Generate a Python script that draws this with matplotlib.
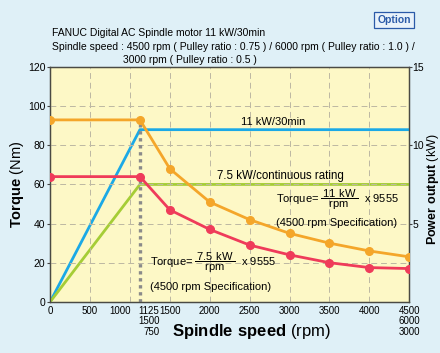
import matplotlib
matplotlib.use('Agg')
import matplotlib.pyplot as plt
import matplotlib.transforms as mtransforms

plt.rcParams['font.family'] = ['Liberation Sans', 'DejaVu Sans']
plt.rcParams['mathtext.fontset'] = 'custom'
plt.rcParams['mathtext.rm'] = 'Liberation Sans'
plt.rcParams['mathtext.bf'] = 'Liberation Sans:bold'

# --- Data (torque in Nm vs spindle speed in rpm, 4500 rpm spec)
speed = [0, 1125, 1500, 2000, 2500, 3000, 3500, 4000, 4500]
torque_30min = [93, 93, 68, 51, 42, 35, 30, 26, 23]
torque_cont = [64, 64, 47, 37, 29, 24, 20, 17.5, 17]
power_speed = [0, 1125, 4500]
power_30min = [0, 11, 11]      # kW
power_cont = [0, 7.5, 7.5]     # kW
base_speed = 1125

xticks = [0, 500, 1000, 1125, 1500, 2000, 2500, 3000, 3500, 4000, 4500]
xticklabels = ['0', '500', '1000', '1125\n1500\n750', '1500', '2000', '2500',
               '3000', '3500', '4000', '4500\n6000\n3000']

c_orange = '#f4a62a'
c_red = '#ef3b5a'
c_blue = '#1ba9e6'
c_green = '#a5cd36'
c_bg = '#dff0f7'
c_face = '#fdf8c6'

fig = plt.figure(figsize=(4.4, 3.53), dpi=100, facecolor=c_bg)
ax = fig.add_axes([0.114, 0.145, 0.816, 0.665])
ax2 = ax.twinx()

# --- Grid
for x in [500, 1000, 1500, 2000, 2500, 3000, 3500, 4000]:
    ax.axvline(x, color='#bdb8a2', lw=0.7, ls=(0, (6, 4)), zorder=1)
for y in [20, 40, 60, 80, 100]:
    ax.axhline(y, color='#bdb8a2', lw=0.7, ls=(0, (6, 4)), zorder=1)

# --- Power lines (right axis, kW)
ax2.plot(power_speed, power_30min, color=c_blue, lw=2, zorder=3)
ax2.plot(power_speed, power_cont, color=c_green, lw=2, zorder=3)

# --- Torque curves
ax.plot([base_speed, base_speed], [0, torque_30min[1]], color='#8a8a8a', lw=2.4,
        ls=(0, (1, 1.1)), zorder=2)
ax.plot(speed, torque_30min, color=c_orange, lw=2, marker='o', ms=5.5, zorder=4)
ax.plot(speed, torque_cont, color=c_red, lw=2, marker='o', ms=5.5, zorder=4)
ax.set_zorder(ax2.get_zorder() + 1)
ax.patch.set_visible(False)
ax2.patch.set_visible(True)
ax2.patch.set_facecolor(c_face)

ax.set_xlim(0, 4500)
ax.set_ylim(0, 120)
ax2.set_ylim(0, 15)
ax.set_xticks(xticks)
ax.set_xticklabels(xticklabels, va='top', linespacing=1.05)
ax.set_yticks(range(0, 121, 20))
ax2.set_yticks([5, 10, 15])
ax.tick_params(labelsize=7.5, length=2.5, width=0.8, pad=1, color='#444')
ax2.tick_params(labelsize=7.5, length=2, width=0.8, pad=0.5, color='#444')
ax.tick_params(axis='x', length=0, pad=3, labelsize=7)

# squeeze the crowded labels around the base speed
labels = ax.get_xticklabels()
labels[2].set_ha('right')
labels[2].set_transform(labels[2].get_transform()
                        + mtransforms.ScaledTranslation(1 / 100, 0, fig.dpi_scale_trans))
labels[3].set_ha('left')
labels[3].set_multialignment('right')
labels[3].set_transform(labels[3].get_transform()
                        + mtransforms.ScaledTranslation(-2 / 100, 0, fig.dpi_scale_trans))

for a in (ax, ax2):
    for s in a.spines.values():
        s.set_color('#4a4a44')
        s.set_linewidth(0.9)

ax.set_xlabel(r'$\mathbf{Spindle\ speed}$ (rpm)', fontsize=12)
ax.xaxis.set_label_coords(0.56, -0.085)
ax.set_ylabel(r'$\mathbf{Torque}$ (Nm)', fontsize=10.5)
ax.yaxis.set_label_coords(-0.067, 0.5)
ax2.set_ylabel(r'$\mathbf{Power\ output}$ (kW)', fontsize=9)
ax2.yaxis.set_label_coords(1.043, 0.48)

# --- Annotations
ax.text(2790, 89.5, '11 kW/30min', fontsize=8, ha='center', va='bottom')
ax.text(2890, 61.5, '7.5 kW/continuous rating', fontsize=8.3, ha='center', va='bottom')
ax.text(2830, 52, r'Torque= $\dfrac{\mathrm{\,11\ kW\,}}{\mathrm{rpm}}$  x 9555', fontsize=8,
        ha='left', va='center')
ax.text(2830, 40.5, '(4500 rpm Specification)', fontsize=8, ha='left', va='center')
ax.text(1256, 20, r'Torque= $\dfrac{\mathrm{\,7.5\ kW\,}}{\mathrm{rpm}}$  x 9555', fontsize=8,
        ha='left', va='center')
ax.text(1256, 7.7, '(4500 rpm Specification)', fontsize=8, ha='left', va='center')

# --- Header
fig.text(52 / 440, 1 - 33 / 353, 'FANUC Digital AC Spindle motor 11 kW/30min',
         fontsize=7.45, va='center')
fig.text(52 / 440, 1 - 47 / 353,
         'Spindle speed : 4500 rpm ( Pulley ratio : 0.75 ) / 6000 rpm ( Pulley ratio : 1.0 ) /',
         fontsize=7.45, va='center')
fig.text(123 / 440, 1 - 60 / 353, '3000 rpm ( Pulley ratio : 0.5 )', fontsize=7.45, va='center')
fig.text(394 / 440, 1 - 20 / 353, 'Option', fontsize=7.5, fontweight='bold', color='#2a5aa8',
         ha='center', va='center',
         bbox=dict(boxstyle='square,pad=0.3', fc='#e8f2fa', ec='#2a5aa8', lw=0.9))

fig.savefig('out.png', dpi=100, facecolor=c_bg)
